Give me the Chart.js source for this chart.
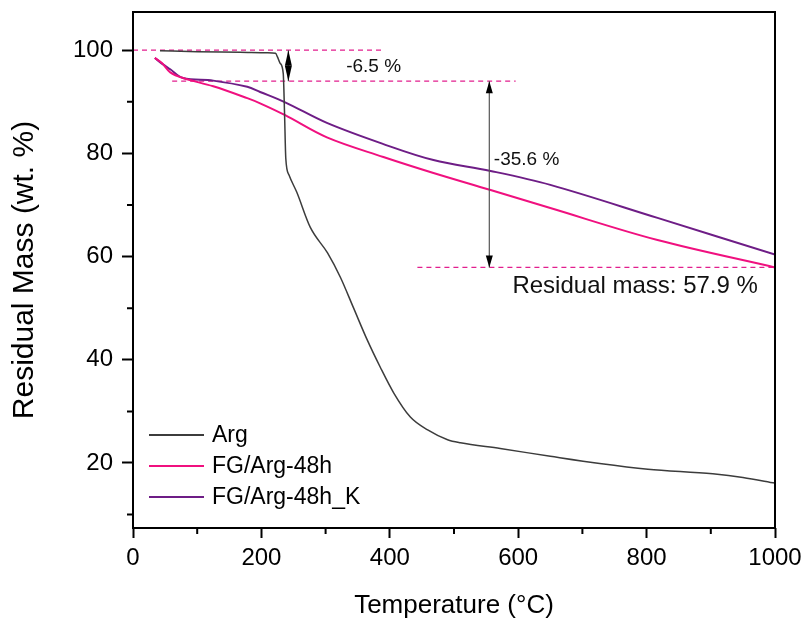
<!DOCTYPE html>
<html>
<head>
<meta charset="utf-8">
<script src="https://cdn.jsdelivr.net/npm/chart.js@4.4.0/dist/chart.umd.min.js"></script>
<style>
  html, body { margin: 0; background: #fff; }
</style>
</head>
<body>
<canvas id="tga" width="806" height="621"></canvas>
<script>
// TGA curves (temperature in °C, residual mass in wt. %)
const argTemp = [42, 100, 167, 209, 222, 225, 229, 234, 236, 238, 243, 255, 276, 303, 323, 343, 365, 385, 406, 432, 459, 490, 510, 572, 650, 727, 802, 903, 950, 1000];
const argMass = [99.9, 99.7, 99.6, 99.5, 99.4, 98.7, 97.5, 95.5, 88.0, 79.0, 75.8, 72.5, 65.7, 60.7, 56.0, 50.2, 43.8, 38.6, 33.6, 28.9, 26.4, 24.5, 23.9, 22.8, 21.3, 19.9, 18.8, 17.9, 17.2, 16.1];

const fgTemp = [34, 45, 58, 78, 125, 178, 198, 237, 302, 390, 468, 557, 650, 817, 1000];
const fg48Mass = [98.5, 97.5, 95.7, 94.6, 93.0, 90.7, 89.7, 87.4, 83.1, 79.3, 76.2, 72.9, 69.4, 63.2, 57.9];
const fg48kMass = [98.5, 97.4, 96.3, 94.6, 94.1, 92.9, 91.9, 89.9, 85.9, 81.8, 78.7, 76.6, 73.9, 67.5, 60.4];

const seriesNames = ["Arg", "FG/Arg-48h", "FG/Arg-48h_K"];

const xTicks = [0, 200, 400, 600, 800, 1000];
const xMinor = [100, 300, 500, 700, 900];
const yTicks = [20, 40, 60, 80, 100];
const yMinor = [10, 30, 50, 70, 90];

// guide lines and mass-loss arrows
const guideLevel = [100, 94.0, 57.9];
const guideFrom = [0, 61, 443];
const guideTo = [390, 596, 1000];
const dropTemp = [242, 555];
const dropTop = [100, 94.0];
const dropBottom = [94.0, 57.9];
const noteText = ["-6.5 %", "-35.6 %", "Residual mass: 57.9 %"];
const noteTemp = [332, 562, 591];
const noteMass = [96.8, 78.7, 54.2];

const FONT = "'Liberation Sans', Arial, sans-serif";
const colors = ["#3c3c3c", "#f0107f", "#6e1d86"];

const toXY = (xs, ys) => xs.map((x, i) => ({ x: x, y: ys[i] }));

const datasets = [
  { label: seriesNames[0], data: toXY(argTemp, argMass), borderColor: colors[0], borderWidth: 1.5, cubicInterpolationMode: "monotone" },
  { label: seriesNames[1], data: toXY(fgTemp, fg48Mass), borderColor: colors[1], borderWidth: 2, tension: 0.35 },
  { label: seriesNames[2], data: toXY(fgTemp, fg48kMass), borderColor: colors[2], borderWidth: 2, tension: 0.35 },
].map((d) => Object.assign(d, { pointRadius: 0, fill: false, series: true }));

guideLevel.forEach((lvl, i) => {
  datasets.push({
    label: "guide" + i,
    data: [{ x: guideFrom[i], y: lvl }, { x: guideTo[i], y: lvl }],
    borderColor: "#e21f8e",
    borderWidth: 1.2,
    borderDash: [5, 4],
    pointRadius: 0,
    fill: false,
  });
});

function arrowHead(ctx, x, y, dir, len, half) {
  ctx.beginPath();
  ctx.moveTo(x, y);
  ctx.lineTo(x - half, y + dir * len);
  ctx.lineTo(x + half, y + dir * len);
  ctx.closePath();
  ctx.fill();
}

const decorations = {
  id: "decorations",
  afterDatasetsDraw(chart) {
    const { ctx, chartArea: a, scales: { x, y } } = chart;
    ctx.save();

    // mass-loss arrows
    dropTemp.forEach((t, i) => {
      const px = x.getPixelForValue(t);
      const y1 = y.getPixelForValue(dropTop[i]);
      const y2 = y.getPixelForValue(dropBottom[i]);
      const span = y2 - y1;
      const len = span < 40 ? span / 2 : 12;
      ctx.strokeStyle = "#555";
      ctx.lineWidth = 1.2;
      ctx.beginPath();
      ctx.moveTo(px, y1);
      ctx.lineTo(px, y2);
      ctx.stroke();
      ctx.fillStyle = "#000";
      arrowHead(ctx, px, y1, 1, len, 3.5);
      arrowHead(ctx, px, y2, -1, len, 3.5);
    });

    // annotation texts
    ctx.fillStyle = "#111";
    ctx.textAlign = "left";
    ctx.textBaseline = "middle";
    noteText.forEach((txt, i) => {
      ctx.font = (i === 2 ? "24px " : "19px ") + FONT;
      ctx.fillText(txt, x.getPixelForValue(noteTemp[i]), y.getPixelForValue(noteMass[i]));
    });

    // legend in lower-left corner
    ctx.font = "23px " + FONT;
    chart.data.datasets.filter((d) => d.series).forEach((d, i) => {
      const ly = a.bottom - 93 + i * 31;
      ctx.strokeStyle = d.borderColor;
      ctx.lineWidth = 2;
      ctx.beginPath();
      ctx.moveTo(a.left + 16, ly);
      ctx.lineTo(a.left + 71, ly);
      ctx.stroke();
      ctx.fillStyle = "#000";
      ctx.fillText(d.label, a.left + 79, ly + 1);
    });

    // frame
    ctx.strokeStyle = "#000";
    ctx.lineWidth = 2;
    ctx.strokeRect(a.left, a.top, a.right - a.left, a.bottom - a.top);

    // minor ticks
    ctx.beginPath();
    xMinor.forEach((v) => {
      const px = x.getPixelForValue(v);
      ctx.moveTo(px, a.bottom);
      ctx.lineTo(px, a.bottom + 6);
    });
    yMinor.forEach((v) => {
      const py = y.getPixelForValue(v);
      ctx.moveTo(a.left, py);
      ctx.lineTo(a.left - 6, py);
    });
    ctx.stroke();
    ctx.restore();
  },
};

Chart.defaults.font.family = FONT;
Chart.defaults.color = "#000";

new Chart(document.getElementById("tga"), {
  type: "line",
  data: { datasets: datasets },
  options: {
    responsive: false,
    animation: false,
    layout: { padding: { top: 12, right: 31, bottom: 0, left: 0 } },
    plugins: { legend: { display: false }, tooltip: { enabled: false } },
    scales: {
      x: {
        type: "linear",
        min: 0,
        max: 1000,
        afterBuildTicks: (s) => { s.ticks = xTicks.map((v) => ({ value: v })); },
        afterFit: (s) => { s.height = 93; s.paddingLeft = 0; s.paddingRight = 0; },
        ticks: { font: { size: 24 }, padding: 6, maxRotation: 0, callback: (v) => String(v) },
        grid: { drawOnChartArea: false, tickLength: 10, tickWidth: 2, tickColor: "#000" },
        border: { display: false },
        title: {
          display: true,
          text: "Temperature (°C)",
          font: { size: 26 },
          padding: { top: 0, bottom: 0 },
        },
      },
      y: {
        min: 7.4,
        max: 107.4,
        afterBuildTicks: (s) => { s.ticks = yTicks.map((v) => ({ value: v })); },
        afterFit: (s) => { s.width = 133; s.paddingTop = 0; s.paddingBottom = 0; },
        ticks: { font: { size: 24 }, padding: 9, callback: (v) => String(v) },
        grid: { drawOnChartArea: false, tickLength: 11, tickWidth: 2, tickColor: "#000" },
        border: { display: false },
        title: {
          display: true,
          text: "Residual Mass (wt. %)",
          font: { size: 30 },
          padding: { top: 7, bottom: 0 },
        },
      },
    },
  },
  plugins: [decorations],
});
</script>
</body>
</html>
